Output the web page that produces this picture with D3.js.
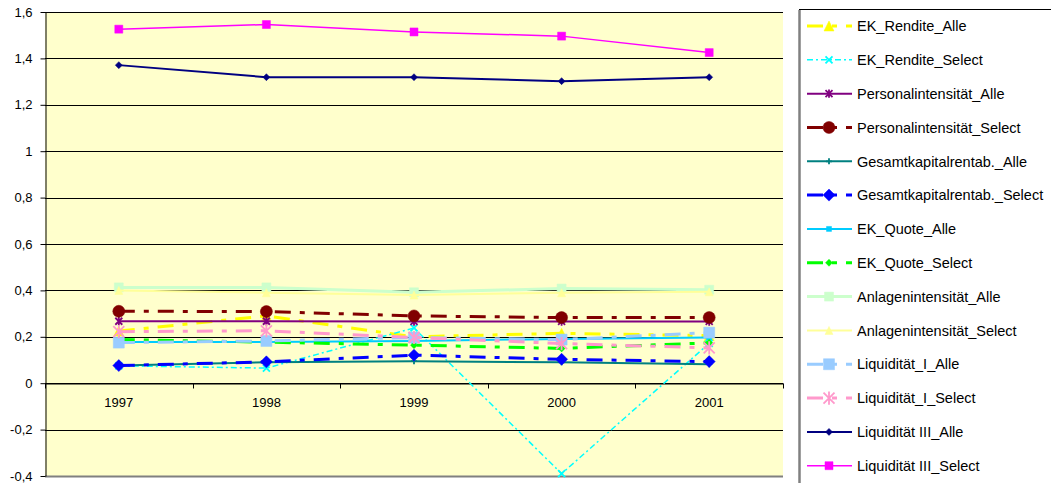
<!DOCTYPE html>
<html>
<head>
<meta charset="utf-8">
<script src="https://cdn.jsdelivr.net/npm/d3@7"></script>
<style>
  body { margin: 0; background: #fff; }
  svg { display: block; font-family: "Liberation Sans", Arial, sans-serif; }
</style>
</head>
<body>
<div id="chart"></div>
<script>
// Data
var years = ["1997", "1998", "1999", "2000", "2001"];
var yTicks = [-0.4, -0.2, 0, 0.2, 0.4, 0.6, 0.8, 1, 1.2, 1.4, 1.6];

var seriesNames = [
  "EK_Rendite_Alle", "EK_Rendite_Select", "Personalintensität_Alle", "Personalintensität_Select",
  "Gesamtkapitalrentab._Alle", "Gesamtkapitalrentab._Select", "EK_Quote_Alle", "EK_Quote_Select",
  "Anlagenintensität_Alle", "Anlagenintensität_Select", "Liquidität_I_Alle", "Liquidität_I_Select",
  "Liquidität III_Alle", "Liquidität III_Select"
];

var ekRenditeAlle = [0.225, 0.29, 0.20, 0.215, 0.205];
var ekRenditeSelect = [0.075, 0.065, 0.238, -0.39, 0.172];
var personalAlle = [0.267, 0.267, 0.266, 0.266, 0.266];
var personalSelect = [0.31, 0.309, 0.29, 0.283, 0.283];
var gkrAlle = [0.076, 0.09, 0.095, 0.09, 0.082];
var gkrSelect = [0.076, 0.092, 0.121, 0.103, 0.093];
var ekQuoteAlle = [0.178, 0.178, 0.182, 0.191, 0.197];
var ekQuoteSelect = [0.188, 0.177, 0.164, 0.15, 0.174];
var anlagenAlle = [0.413, 0.413, 0.392, 0.408, 0.403];
var anlagenSelect = [0.40, 0.39, 0.38, 0.39, 0.394];
var liqIAlle = [0.175, 0.182, 0.197, 0.188, 0.218];
var liqISelect = [0.222, 0.226, 0.197, 0.171, 0.152];
var liqIIIAlle = [1.371, 1.319, 1.319, 1.302, 1.319];
var liqIIISelect = [1.526, 1.546, 1.514, 1.496, 1.425];

var seriesValues = [
  ekRenditeAlle, ekRenditeSelect, personalAlle, personalSelect,
  gkrAlle, gkrSelect, ekQuoteAlle, ekQuoteSelect,
  anlagenAlle, anlagenSelect, liqIAlle, liqISelect,
  liqIIIAlle, liqIIISelect
];

// Line / marker styling per series (same order as above)
var longDash = "16,9,5,9";
var styles = [
  {color: "#FFFF00", width: 3,   dash: longDash,  marker: "triangle", size: 10},
  {color: "#00FFFF", width: 1.5, dash: "6,3,2,3", marker: "x",        size: 7},
  {color: "#800080", width: 2,   dash: null,      marker: "star",     size: 7},
  {color: "#800000", width: 3,   dash: longDash,  marker: "circle",   size: 12},
  {color: "#008080", width: 2,   dash: null,      marker: "plus",     size: 6},
  {color: "#0000FF", width: 3,   dash: longDash,  marker: "diamond",  size: 12},
  {color: "#00CCFF", width: 2,   dash: null,      marker: "square",   size: 5},
  {color: "#00FF00", width: 3,   dash: longDash,  marker: "diamond",  size: 7},
  {color: "#CCFFCC", width: 3,   dash: null,      marker: "square",   size: 9},
  {color: "#FFFF99", width: 2,   dash: null,      marker: "triangle", size: 8},
  {color: "#99CCFF", width: 3,   dash: longDash,  marker: "square",   size: 11},
  {color: "#FF99CC", width: 3,   dash: longDash,  marker: "star",     size: 11},
  {color: "#000080", width: 2,   dash: null,      marker: "diamond",  size: 7},
  {color: "#FF00FF", width: 1.5, dash: null,      marker: "square",   size: 8}
];

var W = 1051, H = 483;
var plot = {left: 45, right: 783, top: 12, bottom: 476};
var tickFont = "13px";

var svg = d3.select("#chart").append("svg")
  .attr("width", W).attr("height", H);

// Scales
var x = d3.scaleBand().domain(years).range([plot.left, plot.right]);
var y = d3.scaleLinear().domain([-0.4, 1.6]).range([plot.bottom, plot.top]);
function cx(d) { return x(d) + x.bandwidth() / 2; }

// Plot background
svg.append("rect")
  .attr("x", plot.left).attr("y", plot.top)
  .attr("width", plot.right - plot.left).attr("height", plot.bottom - plot.top)
  .attr("fill", "#FFFFCC");

// Gridlines
svg.append("g").selectAll("line")
  .data(yTicks)
  .enter().append("line")
  .attr("x1", plot.left).attr("x2", plot.right)
  .attr("y1", function(d) { return Math.round(y(d)) + 0.5; })
  .attr("y2", function(d) { return Math.round(y(d)) + 0.5; })
  .attr("stroke", function(d) { return d === -0.4 ? "#808080" : "#000"; })
  .attr("stroke-width", function(d) { return d === -0.4 ? 2 : 1; });

// Y axis
var yAxis = svg.append("g")
  .attr("transform", "translate(" + (plot.left + 0.5) + ",0)")
  .call(d3.axisLeft(y).tickValues(yTicks).tickSize(5).tickSizeOuter(0).tickPadding(8)
    .tickFormat(function(d) { return String(d).replace(".", ","); }));
yAxis.attr("font-family", "Liberation Sans, Arial, sans-serif").attr("font-size", tickFont);
yAxis.selectAll("text").attr("fill", "#000");
yAxis.select(".domain").attr("stroke", "#000");

// X axis at zero, labels centered, ticks at category borders
var xAxis = svg.append("g")
  .attr("transform", "translate(0," + (Math.round(y(0)) + 0.5) + ")")
  .call(d3.axisBottom(x).tickSize(0).tickSizeOuter(0).tickPadding(14));
xAxis.attr("font-family", "Liberation Sans, Arial, sans-serif").attr("font-size", tickFont);
xAxis.selectAll("text").attr("fill", "#000");
xAxis.select(".domain").attr("stroke", "#000");
xAxis.selectAll(".tick line").remove();
var borders = years.map(function(d) { return x(d); }).concat([plot.right]);
xAxis.selectAll(".border")
  .data(borders)
  .enter().append("line")
  .attr("x1", function(d) { return Math.round(d) + 0.5; })
  .attr("x2", function(d) { return Math.round(d) + 0.5; })
  .attr("y1", 0).attr("y2", 5)
  .attr("stroke", "#000");

// Marker shapes
function markerPath(type, s) {
  var h = s / 2;
  switch (type) {
    case "triangle": return "M0," + (-h) + "L" + h + "," + h + "L" + (-h) + "," + h + "Z";
    case "square": return "M" + (-h) + "," + (-h) + "h" + s + "v" + s + "h" + (-s) + "Z";
    case "diamond": return "M0," + (-h) + "L" + h + ",0L0," + h + "L" + (-h) + ",0Z";
    case "circle": return d3.symbol(d3.symbolCircle, Math.PI * h * h)();
    case "x": return "M" + (-h) + "," + (-h) + "L" + h + "," + h + "M" + (-h) + "," + h + "L" + h + "," + (-h);
    case "plus": return "M" + (-h) + ",0L" + h + ",0M0," + (-h) + "L0," + h;
    case "star": return "M" + (-h) + "," + (-h) + "L" + h + "," + h + "M" + (-h) + "," + h + "L" + h + "," + (-h) +
      "M0," + (-h * 1.2) + "L0," + (h * 1.2);
  }
}
function isStroke(type) { return type === "x" || type === "plus" || type === "star"; }

function drawMarker(sel, st) {
  sel.attr("d", markerPath(st.marker, st.size))
    .attr("fill", isStroke(st.marker) ? "none" : st.color)
    .attr("stroke", st.color)
    .attr("stroke-width", isStroke(st.marker) ? 1.8 : 0.5);
}

// Series
var line = d3.line()
  .x(function(d, i) { return cx(years[i]); })
  .y(function(d) { return y(d); });

seriesValues.forEach(function(vals, k) {
  var st = styles[k];
  var g = svg.append("g");
  g.append("path")
    .datum(vals)
    .attr("d", line)
    .attr("fill", "none")
    .attr("stroke", st.color)
    .attr("stroke-width", st.width)
    .attr("stroke-dasharray", st.dash);
  g.selectAll(".m")
    .data(vals)
    .enter().append("path")
    .attr("transform", function(d, i) { return "translate(" + cx(years[i]) + "," + y(d) + ")"; })
    .each(function() { drawMarker(d3.select(this), st); });
});

// Legend
var legend = svg.append("g");
legend.append("rect")
  .attr("x", 799.5).attr("y", 9.5)
  .attr("width", 270).attr("height", 490)
  .attr("fill", "#fff").attr("stroke", "#000");
legend.append("line")
  .attr("x1", 799.5).attr("x2", 799.5).attr("y1", 10).attr("y2", H)
  .attr("stroke", "#808080").attr("stroke-width", 2.5);

var legendY = d3.scaleLinear().domain([0, 13]).range([26, 465.7]);
seriesNames.forEach(function(name, k) {
  var st = styles[k];
  var ly = legendY(k);
  var item = legend.append("g");
  item.append("line")
    .attr("x1", 807).attr("x2", 852)
    .attr("y1", ly).attr("y2", ly)
    .attr("stroke", st.color)
    .attr("stroke-width", st.width)
    .attr("stroke-dasharray", st.dash);
  item.append("path")
    .attr("transform", "translate(829," + ly + ")")
    .call(drawMarker, st);
  item.append("text")
    .attr("x", 857).attr("y", ly).attr("dy", "0.36em")
    .style("font-size", "14.5px")
    .text(name);
});
</script>
</body>
</html>
